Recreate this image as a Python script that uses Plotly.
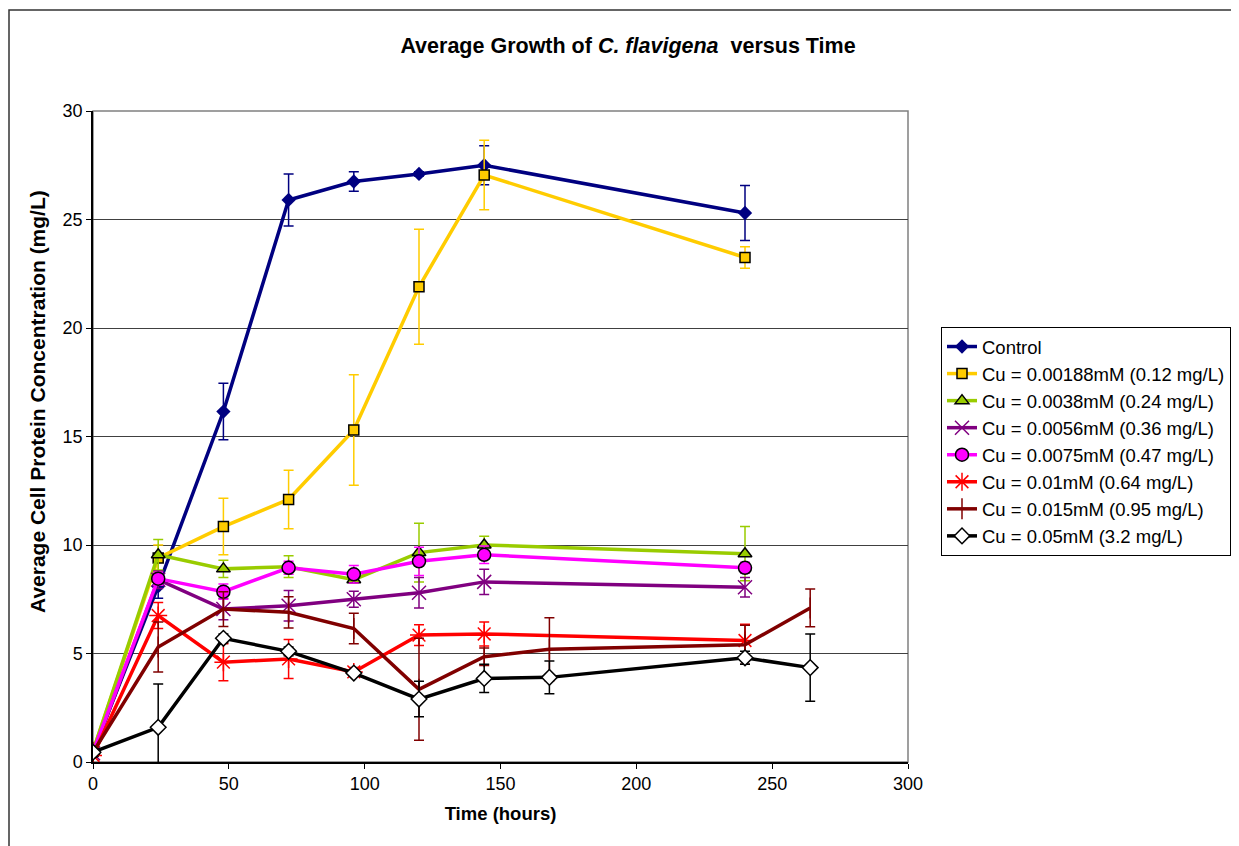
import plotly.graph_objects as go

# ---------------- data ----------------
t8 = [0, 24, 48, 72, 96, 120, 144, 240]
t10 = [0, 24, 48, 72, 96, 120, 144, 168, 240, 264]

control = [0.5, 8.1, 16.15, 25.9, 26.75, 27.1, 27.5, 25.3]
control_err = [0, 0.55, 1.3, 1.2, 0.45, 0.1, 0.9, 1.27]

cu_00188 = [0.5, 9.4, 10.85, 12.1, 15.3, 21.9, 27.05, 23.25]
cu_00188_err = [0, 0.6, 1.3, 1.35, 2.55, 2.65, 1.6, 0.5]

cu_0038 = [0.5, 9.55, 8.9, 9.0, 8.4, 9.65, 10.0, 9.6]
cu_0038_err = [0, 0.7, 0.4, 0.5, 0.15, 1.35, 0.4, 1.25]

cu_0056 = [0.4, 8.4, 7.05, 7.2, 7.5, 7.8, 8.3, 8.05]
cu_0056_err = [0, 0.4, 0.5, 0.7, 0.37, 0.7, 0.58, 0.45]

cu_0075 = [0.45, 8.45, 7.85, 8.95, 8.65, 9.25, 9.55, 8.95]
cu_0075_err = [0, 0.3, 0.35, 0.3, 0.4, 0.65, 0.4, 0.25]

cu_001 = [0.3, 6.75, 4.6, 4.75, 4.15, 5.85, 5.9, 5.6]
cu_001_err = [0, 0.6, 0.85, 0.9, 0.2, 0.48, 0.55, 0.75]

cu_0015 = [0.45, 5.3, 7.05, 6.9, 6.15, 3.35, 4.85, 5.2, 5.4, 7.1]
cu_0015_err = [0, 1.15, 0.8, 0.72, 0.7, 2.35, 0.4, 1.45, 0.9, 0.87]

cu_005 = [0.45, 1.6, 5.7, 5.1, 4.1, 2.9, 3.85, 3.9, 4.8, 4.35]
cu_005_err = [0, 2.0, 0.2, 0.2, 0.1, 0.82, 0.65, 0.75, 0.3, 1.55]

names = [
    "Control",
    "Cu = 0.00188mM (0.12 mg/L)",
    "Cu = 0.0038mM (0.24 mg/L)",
    "Cu = 0.0056mM (0.36 mg/L)",
    "Cu = 0.0075mM (0.47 mg/L)",
    "Cu = 0.01mM (0.64 mg/L)",
    "Cu = 0.015mM (0.95 mg/L)",
    "Cu = 0.05mM (3.2 mg/L)",
]

series = [
    (t8, control, control_err, "#000080", dict(symbol="diamond", size=11, color="#000080", line=dict(width=0))),
    (t8, cu_00188, cu_00188_err, "#FFCC00", dict(symbol="square", size=10, color="#FFCC00", line=dict(width=1.5, color="black"))),
    (t8, cu_0038, cu_0038_err, "#99CC00", dict(symbol="triangle-up", size=12, color="#99CC00", line=dict(width=1.5, color="black"))),
    (t8, cu_0056, cu_0056_err, "#800080", dict(symbol="x-thin-open", size=14, color="#800080", line=dict(width=1.5, color="#800080"))),
    (t8, cu_0075, cu_0075_err, "#FF00FF", dict(symbol="circle", size=13, color="#FF00FF", line=dict(width=1.5, color="black"))),
    (t8, cu_001, cu_001_err, "#FF0000", dict(symbol="asterisk-open", size=15, color="#FF0000", line=dict(width=1.5, color="#FF0000"))),
    (t10, cu_0015, cu_0015_err, "#800000", dict(symbol="line-ns-open", size=15, color="#800000", line=dict(width=1.5, color="#800000"))),
    (t10, cu_005, cu_005_err, "#000000", dict(symbol="diamond", size=12, color="white", line=dict(width=1.5, color="black"))),
]

fig = go.Figure()
for i, (x, y, e, col, mk) in enumerate(series):
    fig.add_trace(go.Scatter(
        x=x, y=y, name=names[i], mode="lines+markers",
        line=dict(color=col, width=3.5),
        marker=mk,
        legendgroup=f"g{i}",
        error_y=dict(type="data", array=e, visible=True, color=col, thickness=1.5, width=5),
    ))

FONT = "Liberation Sans, Arial, sans-serif"
W, H = 1231, 838

fig.update_layout(
    width=W, height=H,
    margin=dict(l=85, r=331, t=103, b=84, autoexpand=False),
    paper_bgcolor="white", plot_bgcolor="white",
    font=dict(family=FONT, size=18, color="black"),
    title=dict(
        text="<b>Average Growth of <i>C. flavigena</i>  versus Time</b>",
        x=620 / W, xref="container", xanchor="center",
        y=1 - 37 / H, yref="container", yanchor="middle",
        font=dict(family=FONT, size=21.5, color="black"),
    ),
    xaxis=dict(
        range=[0, 300], tickvals=[0, 50, 100, 150, 200, 250, 300],
        showgrid=False, zeroline=False,
        showline=True, linecolor="black", linewidth=1.5,
        ticks="outside", ticklen=5, tickcolor="black",
        tickfont=dict(size=18),
        title=dict(text="<b>Time (hours)</b>", font=dict(size=18.5), standoff=14),
    ),
    yaxis=dict(
        range=[0, 30], tickvals=[0, 5, 10, 15, 20, 25, 30],
        showgrid=True, gridcolor="#404040", gridwidth=1,
        zeroline=False,
        showline=True, linecolor="black", linewidth=1.5,
        ticks="outside", ticklen=5, tickcolor="black",
        tickfont=dict(size=18),
    ),
    legend=dict(
        x=(941 - 93) / 815, y=(762 - 327) / 651, xanchor="left", yanchor="top",
        bordercolor="black", borderwidth=1, bgcolor="white",
        font=dict(family=FONT, size=18.5),
        tracegroupgap=0,
    ),
    showlegend=True,
)

# y-axis title as a rotated annotation (positioned like the original)
fig.add_annotation(
    text="<b>Average Cell Protein Concentration (mg/L)</b>",
    xref="paper", yref="paper",
    x=(38 - 93) / 815, y=(762 - 402) / 651,
    xanchor="center", yanchor="middle",
    textangle=-90, showarrow=False,
    font=dict(family=FONT, size=21, color="black"),
)

# plot area frame (gray top/right)
fig.add_shape(type="rect", xref="paper", yref="paper", x0=0, x1=1, y0=0, y1=1,
              line=dict(color="#808080", width=1.5), layer="below")
# outer chart frame
fig.add_shape(type="rect", xref="paper", yref="paper",
              x0=(9 - 93) / 815, x1=(1260 - 93) / 815,
              y0=(762 - 870) / 651, y1=(762 - 10) / 651,
              line=dict(color="#333333", width=1.5), layer="below")

fig.write_html("out.html")
